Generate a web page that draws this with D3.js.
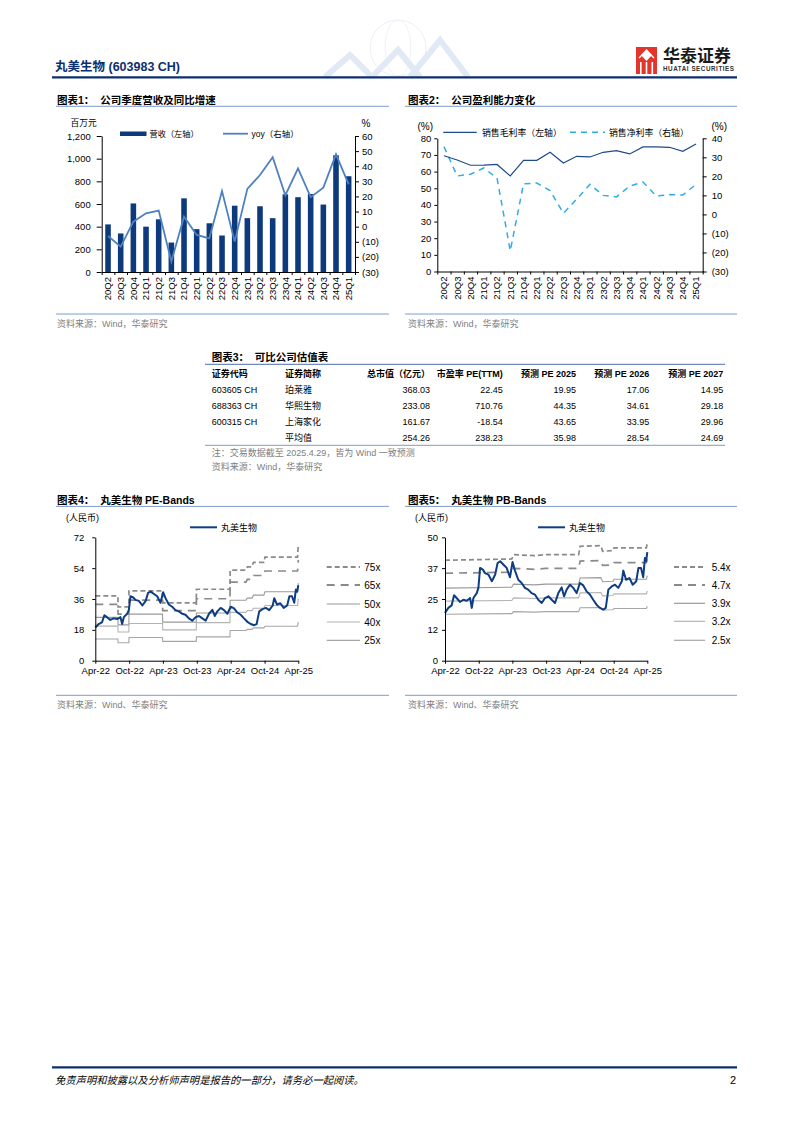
<!DOCTYPE html>
<html>
<head>
<meta charset="utf-8">
<script src="https://cdn.jsdelivr.net/npm/d3@7"></script>
<style>
  body { margin: 0; background: #fff; }
  svg text { white-space: pre; }
</style>
</head>
<body>
<script>
// ---------- data ----------
const quarters = ['20Q2','20Q3','20Q4','21Q1','21Q2','21Q3','21Q4','22Q1','22Q2','22Q3',
                  '22Q4','23Q1','23Q2','23Q3','23Q4','24Q1','24Q2','24Q3','24Q4','25Q1'];
const revenue = [420, 340, 605, 400, 465, 260, 650, 378, 430, 322,
                 585, 475, 580, 475, 685, 660, 688, 595, 1030, 845];
const revenueYoy = [-6.2, -13.2, 3.3, 8.8, 10.6, -23, 6.6, -5.5, -7.7, 23.6,
                    -9.9, 25, 34.2, 45.9, 20.8, 38.6, 19.5, 25.8, 47.9, 28];
const grossMargin = [69.5, 67, 63.8, 63.9, 64.3, 57.4, 66.8, 66.8, 71.6, 65.2,
                     69.2, 68.8, 71.6, 72.6, 70.6, 74.8, 74.8, 74.6, 72.2, 76.6];
const netMargin = [35.6, 20.2, 21.1, 24.4, 19.1, -19.1, 16.1, 16.5, 12.5, 0.6,
                   8, 15.8, 10, 9.2, 14.9, 17, 9.7, 10.4, 10.2, 15.8];
const revTicks = [0, 200, 400, 600, 800, 1000, 1200];
const yoyTicks = [-30, -20, -10, 0, 10, 20, 30, 40, 50, 60];
const gmTicks = [0, 10, 20, 30, 40, 50, 60, 70, 80];
const nmTicks = [-30, -20, -10, 0, 10, 20, 30, 40];

const tableHead = ['证券代码', '证券简称', '总市值（亿元）', '市盈率 PE(TTM)', '预测 PE 2025', '预测 PE 2026', '预测 PE 2027'];
const tableRows = [
  ['603605 CH', '珀莱雅', '368.03', '22.45', '19.95', '17.06', '14.95'],
  ['688363 CH', '华熙生物', '233.08', '710.76', '44.35', '34.61', '29.18'],
  ['600315 CH', '上海家化', '161.67', '-18.54', '43.65', '33.95', '29.96'],
  ['', '平均值', '254.26', '238.23', '35.98', '28.54', '24.69']
];

const bandDates = ['2022-04-29', '2022-10-29', '2023-04-29', '2023-10-29', '2024-04-29', '2024-10-29', '2025-04-29'];
const peTicks = [0, 18, 36, 54, 72];
const pbTicks = [0, 12.5, 25, 37.5, 50];
const pbTickLabels = ['0', '12', '25', '37', '50'];
const peMultiples = [75, 65, 50, 40, 25];
const pbMultiples = [5.4, 4.7, 3.9, 3.2, 2.5];

// EPS used by the PE bands (step changes at report dates)
const epsSteps = [
  ['2022-04-29', 0.505], ['2022-08-29', 0.505], ['2022-08-30', 0.418], ['2022-10-27', 0.418],
  ['2022-10-28', 0.543], ['2023-04-27', 0.543], ['2023-04-28', 0.45], ['2023-10-26', 0.45],
  ['2023-10-27', 0.556], ['2024-04-25', 0.556], ['2024-04-26', 0.705], ['2024-07-20', 0.705],
  ['2024-07-28', 0.73], ['2024-08-22', 0.73], ['2024-08-30', 0.765], ['2024-10-25', 0.765],
  ['2024-10-31', 0.805], ['2025-04-25', 0.805], ['2025-04-29', 0.905]
];
// BVPS used by the PB bands
const bvpsSteps = [
  ['2022-04-29', 7.54], ['2023-04-26', 7.63], ['2023-05-05', 7.96], ['2023-08-28', 7.88],
  ['2023-10-27', 7.96], ['2024-04-22', 7.96], ['2024-04-30', 8.59], ['2024-08-20', 8.63],
  ['2024-08-30', 8.21], ['2024-10-25', 8.26], ['2024-10-31', 8.46], ['2025-04-24', 8.46],
  ['2025-04-29', 8.83]
];
const price = [
  ['2022-04-29', 19.3], ['2022-05-17', 21.4], ['2022-06-04', 22.4], ['2022-06-17', 26.5],
  ['2022-07-01', 25.4], ['2022-07-19', 23.8], ['2022-08-06', 24.7], ['2022-08-25', 24.3],
  ['2022-09-12', 25.4], ['2022-09-21', 21.4], ['2022-09-30', 25.4], ['2022-10-18', 27.4],
  ['2022-10-27', 29.5], ['2022-11-05', 37.6], ['2022-11-20', 36.9], ['2022-12-02', 35.5],
  ['2022-12-20', 34.9], ['2023-01-08', 32.2], ['2023-01-26', 34.9], ['2023-02-08', 39.6],
  ['2023-02-22', 40.3], ['2023-03-12', 38.9], ['2023-03-29', 37.6], ['2023-04-16', 33.8],
  ['2023-04-30', 40.0], ['2023-05-13', 36.5], ['2023-05-31', 32.8], ['2023-06-18', 31.5],
  ['2023-07-06', 29.5], ['2023-07-24', 28.8], ['2023-08-11', 27.4], ['2023-08-29', 26.8],
  ['2023-09-16', 24.7], ['2023-10-05', 23.4], ['2023-10-23', 25.4], ['2023-11-10', 26.1],
  ['2023-11-28', 24.7], ['2023-12-16', 23.4], ['2024-01-03', 27.4], ['2024-01-21', 29.7],
  ['2024-02-03', 26.1], ['2024-02-17', 28.8], ['2024-03-06', 30.8], ['2024-03-24', 29.5],
  ['2024-04-11', 27.4], ['2024-04-29', 31.5], ['2024-05-17', 30.5], ['2024-06-04', 28.1],
  ['2024-06-22', 26.8], ['2024-07-10', 24.7], ['2024-07-28', 22.7], ['2024-08-15', 21.4],
  ['2024-09-03', 20.7], ['2024-09-16', 21.4], ['2024-09-30', 28.8], ['2024-10-18', 30.1],
  ['2024-11-05', 30.8], ['2024-11-23', 29.5], ['2024-12-12', 32.2], ['2024-12-20', 36.5],
  ['2025-01-04', 32.8], ['2025-01-22', 33.5], ['2025-02-09', 30.8], ['2025-02-28', 32.2],
  ['2025-03-12', 37.6], ['2025-03-26', 37.6], ['2025-04-07', 33.8], ['2025-04-16', 41.6],
  ['2025-04-23', 40.3], ['2025-04-29', 44.0]
];

// ---------- page ----------
const FONT = 'Arial, "Liberation Sans", "Noto Sans CJK SC", sans-serif';
const NAVY = '#0c2f6e';
const RULE = '#7d9ccc';
const GREY = '#808080';
const parse = d3.timeParse('%Y-%m-%d');

const svg = d3.select('body').append('svg')
  .attr('width', 793).attr('height', 1122)
  .style('font-family', FONT);

function txt(x, y, s, o = {}) {
  return svg.append('text')
    .attr('x', x).attr('y', y).text(s)
    .attr('font-size', o.size || 9)
    .attr('font-weight', o.bold ? 'bold' : null)
    .attr('font-style', o.italic ? 'italic' : null)
    .attr('fill', o.color || '#000')
    .attr('text-anchor', o.anchor || 'start');
}
function hline(x0, x1, y, color, w) {
  svg.append('line').attr('x1', x0).attr('x2', x1).attr('y1', y).attr('y2', y)
    .attr('stroke', color).attr('stroke-width', w || 1);
}
function axisStyle(g, size) {
  g.attr('font-family', FONT).attr('font-size', size);
  g.selectAll('.tick text').attr('fill', '#000');
  g.selectAll('line, path').attr('stroke', '#000');
}
const fmtNeg = d => d < 0 ? `(${-d})` : d;

// header
const deco = svg.append('g').attr('opacity', 0.35);
deco.append('circle').attr('cx', 398).attr('cy', 48).attr('r', 28).attr('fill', 'none').attr('stroke', '#c8d4e4');
deco.append('ellipse').attr('cx', 398).attr('cy', 48).attr('rx', 13).attr('ry', 28).attr('fill', 'none').attr('stroke', '#d3dcea');
deco.append('path').attr('d', 'M325,77 L350,55 L372,77 M372,77 L398,50 L420,77 M410,77 L440,40 L468,77')
  .attr('fill', 'none').attr('stroke', '#aac2e2').attr('stroke-width', 6);
txt(55, 70.5, '丸美生物 (603983 CH)', { size: 12.5, bold: true, color: NAVY });
svg.append('rect').attr('x', 636).attr('y', 47).attr('width', 21).attr('height', 27).attr('fill', '#e2352b');
svg.append('path').attr('d', 'M646.5,49 L652,55 L646.5,61 L641,55 Z').attr('fill', '#fff');
svg.append('path').attr('d', 'M639,58 L643,54 M654,58 L650,54').attr('stroke', '#fff').attr('stroke-width', 1.3);
[640, 645.7, 651.5].forEach(x => svg.append('rect').attr('x', x).attr('y', 62).attr('width', 1.6).attr('height', 12).attr('fill', '#fff'));
txt(663, 62, '华泰证券', { size: 17, bold: true, color: '#1a1a1a' });
txt(663, 70.6, 'HUATAI SECURITIES', { size: 6.3, bold: true, color: '#333' }).attr('textLength', 71);
hline(52, 737, 77.3, NAVY, 2.2);

// section titles and rules
txt(57, 104, '图表1：  公司季度营收及同比增速', { size: 10.5, bold: true });
hline(56, 389, 106.3, RULE);
txt(408, 104, '图表2：  公司盈利能力变化', { size: 10.5, bold: true });
hline(405, 737, 106.3, RULE);
hline(56, 389, 314, RULE);
hline(405, 737, 314, RULE);
txt(57, 326.5, '资料来源：Wind，华泰研究', { size: 9, color: GREY });
txt(408, 326.5, '资料来源：Wind，华泰研究', { size: 9, color: GREY });

// ---------- chart 1 ----------
const x1 = d3.scaleBand().domain(quarters).range([101.7, 355]).paddingInner(0.56).paddingOuter(0.28);
const yRev = d3.scaleLinear().domain([0, 1200]).range([272, 136]);
const yYoy = d3.scaleLinear().domain([-30, 60]).range([272, 136]);

svg.append('g').selectAll('rect').data(revenue).join('rect')
  .attr('x', (d, i) => x1(quarters[i]))
  .attr('y', d => yRev(d))
  .attr('width', x1.bandwidth())
  .attr('height', d => yRev(0) - yRev(d))
  .attr('fill', '#0d3a7c');

svg.append('path').datum(revenueYoy)
  .attr('d', d3.line().x((d, i) => x1(quarters[i]) + x1.bandwidth() / 2).y(d => yYoy(d)))
  .attr('fill', 'none').attr('stroke', '#4f81c0').attr('stroke-width', 1.8);

svg.append('g').attr('transform', 'translate(101.7,0)')
  .call(d3.axisLeft(yRev).tickValues(revTicks).tickFormat(d3.format(',')).tickSize(5).tickPadding(6).tickSizeOuter(0))
  .call(axisStyle, 9.5);
svg.append('g').attr('transform', 'translate(355,0)')
  .call(d3.axisRight(yYoy).tickValues(yoyTicks).tickFormat(fmtNeg).tickSize(4).tickPadding(3).tickSizeOuter(0))
  .call(axisStyle, 9.5);

function bandAxis(band, y) {
  const n = band.domain().length;
  const idx = d3.scaleLinear().domain([0, n]).range(band.range());
  svg.append('g').attr('transform', `translate(0,${y})`)
    .call(d3.axisBottom(idx).tickValues(d3.range(n + 1)).tickFormat('').tickSize(3).tickSizeOuter(0))
    .call(axisStyle, 9);
  const lab = svg.append('g').attr('transform', `translate(0,${y})`)
    .call(d3.axisBottom(band).tickSize(0).tickSizeOuter(0));
  lab.select('.domain').remove();
  lab.selectAll('.tick text')
    .attr('transform', 'rotate(-90)').attr('text-anchor', 'end')
    .attr('x', -5).attr('y', 0).attr('dy', '0.35em');
  lab.call(axisStyle, 9.5);
}
bandAxis(x1, 272);

txt(70.5, 126.3, '百万元', { size: 8.7 });
txt(361.5, 127, '%', { size: 10 });
svg.append('rect').attr('x', 120).attr('y', 131.5).attr('width', 26.5).attr('height', 4.5).attr('fill', '#0d3a7c');
txt(149.5, 136.8, '营收（左轴）', { size: 8.2 });
hline(223, 248, 133.7, '#4f81c0', 1.8);
txt(251.5, 136.8, 'yoy（右轴）', { size: 8.5 });

// ---------- chart 2 ----------
const x2 = d3.scaleBand().domain(quarters).range([437.3, 702.7]).paddingInner(0.5).paddingOuter(0.25);
const yGm = d3.scaleLinear().domain([0, 80]).range([271.5, 138.3]);
const yNm = d3.scaleLinear().domain([-30, 40]).range([271.5, 138.3]);
const cx2 = (d, i) => x2(quarters[i]) + x2.bandwidth() / 2;

svg.append('path').datum(netMargin)
  .attr('d', d3.line().x(cx2).y(d => yNm(d)))
  .attr('fill', 'none').attr('stroke', '#2eaee6').attr('stroke-width', 1.5).attr('stroke-dasharray', '6,5');
svg.append('path').datum(grossMargin)
  .attr('d', d3.line().x(cx2).y(d => yGm(d)))
  .attr('fill', 'none').attr('stroke', '#1f4a8a').attr('stroke-width', 1.2);

svg.append('g').attr('transform', 'translate(437.3,0)')
  .call(d3.axisLeft(yGm).tickValues(gmTicks).tickSize(3).tickPadding(3).tickSizeOuter(0))
  .call(axisStyle, 9.5);
svg.append('g').attr('transform', 'translate(702.7,0)')
  .call(d3.axisRight(yNm).tickValues(nmTicks).tickFormat(fmtNeg).tickSize(4).tickPadding(5).tickSizeOuter(0))
  .call(axisStyle, 9.5);
bandAxis(x2, 271.5);

txt(417.5, 129.5, '(%)', { size: 10 });
txt(711.5, 129.5, '(%)', { size: 10 });
hline(443.3, 476.7, 132.3, '#1f4a8a', 1.2);
txt(482, 135.5, '销售毛利率（左轴）', { size: 8.9 });
svg.append('line').attr('x1', 570).attr('x2', 605).attr('y1', 132.3).attr('y2', 132.3)
  .attr('stroke', '#2eaee6').attr('stroke-width', 1.5).attr('stroke-dasharray', '6,5');
txt(609, 135.5, '销售净利率（右轴）', { size: 8.9 });

// ---------- table ----------
txt(211.7, 361.3, '图表3：  可比公司估值表', { size: 10.5, bold: true });
hline(205, 725, 364.3, '#4a6ea8', 1);
const colX = [211.7, 285, 430, 502.7, 576, 649.3, 723.3];
const colAnchor = ['start', 'start', 'end', 'end', 'end', 'end', 'end'];
tableHead.forEach((h, j) => txt(colX[j], 377.3, h, { size: 9, bold: true, anchor: colAnchor[j] }));
tableRows.forEach((row, i) => {
  row.forEach((c, j) => txt(colX[j], 392.6 + i * 16.2, c, { size: 9, anchor: colAnchor[j] }));
});
hline(205, 725, 445.3, RULE);
txt(211.7, 455.6, '注：交易数据截至 2025.4.29，皆为 Wind 一致预测', { size: 9, color: GREY });
txt(211.7, 469.6, '资料来源：Wind，华泰研究', { size: 9, color: GREY });

// ---------- PE / PB bands ----------
const bandStyles = [
  { color: '#8a8a8a', width: 1.7, dash: '5,3' },
  { color: '#8a8a8a', width: 1.7, dash: '8,6' },
  { color: '#9a9a9a', width: 1.1, dash: null },
  { color: '#b4b4b4', width: 1.1, dash: null },
  { color: '#a6a6a6', width: 1.1, dash: null }
];

function bandChart(o) {
  txt(o.titleX, 503.5, o.title, { size: 10.5, bold: true });
  hline(o.ruleX0, o.ruleX1, 506.4, RULE);
  hline(o.ruleX0, o.ruleX1, 695.3, RULE);
  txt(o.titleX, 707.6, '资料来源：Wind、华泰研究', { size: 9, color: GREY });
  txt(o.unitX, 521.2, '(人民币)', { size: 9 });

  const x = d3.scaleTime()
    .domain([parse(bandDates[0]), parse(bandDates[bandDates.length - 1])])
    .range([o.x0, o.x1]);
  const y = d3.scaleLinear().domain([0, o.max]).range([660.7, 537.3]);

  o.multiples.forEach((m, k) => {
    const st = bandStyles[k];
    svg.append('path').datum(o.steps)
      .attr('d', d3.line().x(d => x(parse(d[0]))).y(d => y(d[1] * m)))
      .attr('fill', 'none').attr('stroke', st.color).attr('stroke-width', st.width)
      .attr('stroke-dasharray', st.dash);
    const ly = o.legendY[k];
    svg.append('line').attr('x1', o.legX0).attr('x2', o.legX1).attr('y1', ly).attr('y2', ly)
      .attr('stroke', st.color).attr('stroke-width', st.dash ? 2 : 1.2).attr('stroke-dasharray', st.dash);
    txt(o.legTextX, ly + 3.6, m + 'x', { size: 10 });
  });

  svg.append('path').datum(price)
    .attr('d', d3.line().x(d => x(parse(d[0]))).y(d => y(d[1])))
    .attr('fill', 'none').attr('stroke', '#0e3d84').attr('stroke-width', 2).attr('stroke-linejoin', 'round');

  svg.append('g').attr('transform', `translate(${o.x0},0)`)
    .call(d3.axisLeft(y).tickValues(o.ticks).tickFormat((d, i) => o.tickLabels[i]).tickSize(3).tickPadding(o.pad).tickSizeOuter(0))
    .call(axisStyle, 9.5);
  svg.append('g').attr('transform', 'translate(0,660.7)')
    .call(d3.axisBottom(x).tickValues(bandDates.map(parse)).tickFormat(d3.timeFormat('%b-%y')).tickSize(3).tickPadding(4).tickSizeOuter(0))
    .call(axisStyle, 9.5);

  hline(o.keyX, o.keyX + 27, 527.3, '#0e3d84', 2);
  txt(o.keyX + 31, 530.5, '丸美生物', { size: 9 });
}

bandChart({
  title: '图表4：  丸美生物 PE-Bands', titleX: 57, ruleX0: 56, ruleX1: 389, unitX: 66,
  x0: 95.3, x1: 298.3, max: 72, ticks: peTicks, tickLabels: peTicks.map(String), pad: 8,
  multiples: peMultiples, steps: epsSteps,
  legX0: 326.7, legX1: 360, legTextX: 364.3, legendY: [567, 585, 604, 622, 640.3],
  keyX: 190
});
bandChart({
  title: '图表5：  丸美生物 PB-Bands', titleX: 408, ruleX0: 405, ruleX1: 737, unitX: 415,
  x0: 445, x1: 647.3, max: 50, ticks: pbTicks, tickLabels: pbTickLabels, pad: 4,
  multiples: pbMultiples, steps: bvpsSteps,
  legX0: 674, legX1: 705, legTextX: 711.7, legendY: [567, 585, 603.3, 621.3, 640.3],
  keyX: 538
});

// ---------- footer ----------
hline(52, 737, 1067.3, NAVY, 2.2);
txt(55, 1083.5, '免责声明和披露以及分析师声明是报告的一部分，请务必一起阅读。', { size: 10.3, italic: true });
txt(736, 1084, '2', { size: 11, anchor: 'end' });
</script>
</body>
</html>
